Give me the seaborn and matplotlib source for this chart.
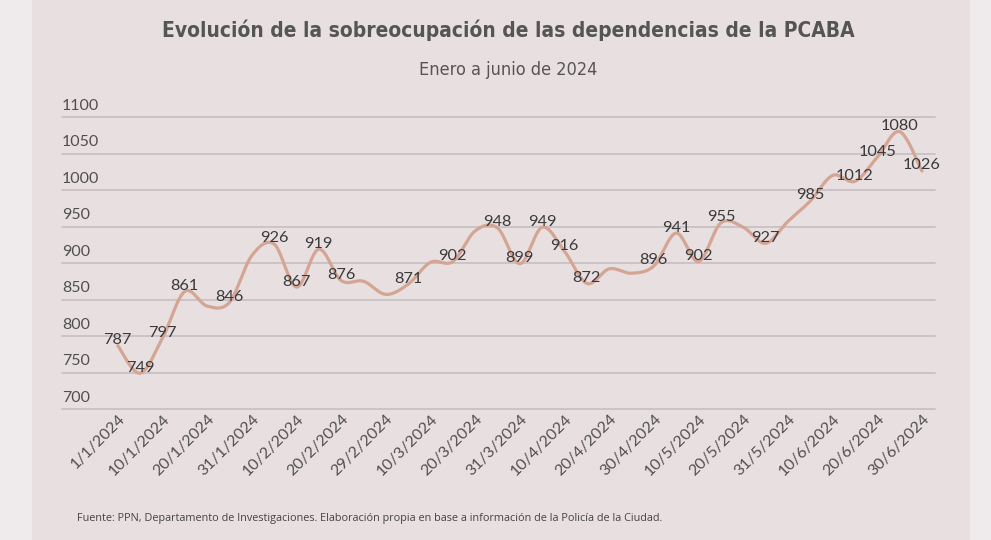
import numpy as np
import pandas as pd
import matplotlib
matplotlib.use("Agg")
import matplotlib.pyplot as plt
import seaborn as sns
from matplotlib.patches import Rectangle
from matplotlib.transforms import ScaledTranslation

# ---------------- data ----------------
dates = ["1/1/2024", "5/1/2024", "10/1/2024", "15/1/2024", "20/1/2024", "25/1/2024",
         "31/1/2024", "5/2/2024", "10/2/2024", "15/2/2024", "20/2/2024", "25/2/2024",
         "29/2/2024", "5/3/2024", "10/3/2024", "15/3/2024", "20/3/2024", "25/3/2024",
         "31/3/2024", "5/4/2024", "10/4/2024", "15/4/2024", "20/4/2024", "25/4/2024",
         "30/4/2024", "5/5/2024", "10/5/2024", "15/5/2024", "20/5/2024", "25/5/2024",
         "31/5/2024", "5/6/2024", "10/6/2024", "15/6/2024", "20/6/2024", "25/6/2024",
         "30/6/2024"]
values = [787, 749, 797, 861, 841, 846,
          910, 926, 867, 919, 876, 875,
          857, 871, 901, 902, 944, 948,
          899, 949, 916, 872, 892, 886,
          896, 941, 902, 955, 949, 927,
          957, 985, 1020, 1012, 1045, 1080,
          1026]
labeled = [True, True, True, True, False, True,
           False, True, True, True, True, False,
           False, True, False, True, False, True,
           True, True, True, True, False, False,
           True, True, True, True, False, True,
           False, True, False, True, True, True,
           True]
shown_ticks = dates[::2]
y_ticks = [700, 750, 800, 850, 900, 950, 1000, 1050, 1100]

title = "Evolución de la sobreocupación de las dependencias de la PCABA"
subtitle = "Enero a junio de 2024"
source = ("Fuente: PPN, Departamento de Investigaciones. Elaboración propia en base a "
          "información de la Policía de la Ciudad.")

df = pd.DataFrame({"fecha": dates, "valor": values, "etiqueta": labeled})
df["pos"] = np.arange(len(df))


def smooth_curve(x, y, steps=24):
    """Bezier smoothing through the data points (like a spreadsheet 'smoothed line')."""
    x = np.asarray(x, float)
    y = np.asarray(y, float)
    px = np.concatenate([[x[0]], x, [x[-1]]])
    py = np.concatenate([[y[0]], y, [y[-1]]])
    xs, ys = [], []
    t = np.linspace(0, 1, steps, endpoint=False)
    for i in range(len(x) - 1):
        p0 = np.array([px[i + 1], py[i + 1]])
        p3 = np.array([px[i + 2], py[i + 2]])
        c1 = p0 + (np.array([px[i + 2], py[i + 2]]) - np.array([px[i], py[i]])) / 6
        c2 = p3 - (np.array([px[i + 3], py[i + 3]]) - np.array([px[i + 1], py[i + 1]])) / 6
        pts = ((1 - t)[:, None] ** 3 * p0 + 3 * ((1 - t) ** 2 * t)[:, None] * c1
               + 3 * ((1 - t) * t ** 2)[:, None] * c2 + (t ** 3)[:, None] * p3)
        xs.extend(pts[:, 0]); ys.extend(pts[:, 1])
    xs.append(x[-1]); ys.append(y[-1])
    return np.array(xs), np.array(ys)


# ---------------- style ----------------
sns.set_theme(style="white")
plt.rcParams["font.family"] = ["Lato", "DejaVu Sans"]

outer_bg = "#efeaec"
panel_bg = "#e8dfe1"
grid_col = "#c9c1c4"
line_col = "#d4a593"
txt_col = "#3a3a3a"

W, H = 991, 540
fig = plt.figure(figsize=(W / 100, H / 100), dpi=100, facecolor=outer_bg)
fig.patches.append(Rectangle((32 / W, 0), (970 - 32) / W, 1, transform=fig.transFigure,
                             facecolor=panel_bg, edgecolor="none", zorder=-5))

left, right, top, bottom = 62, 935, 117, 409
ax = fig.add_axes([left / W, 1 - bottom / H, (right - left) / W, (bottom - top) / H])
ax.set_facecolor("none")
ax.set_zorder(2)

sx, sy = smooth_curve(df["pos"], df["valor"])
sns.lineplot(x=sx, y=sy, sort=False, estimator=None, color=line_col, lw=2.3, ax=ax,
             zorder=3)

x_first, x_last = 117.7, 922.0
step = (x_last - x_first) / (len(dates) - 1)
ax.set_xlim(-(x_first - left) / step, len(dates) - 1 + (right - x_last) / step)
ax.set_ylim(y_ticks[0], y_ticks[-1])

for _, r in df[df["etiqueta"]].iterrows():
    ax.annotate(str(r["valor"]), (r["pos"], r["valor"]), xytext=(0, 4),
                textcoords="offset points", ha="center", va="center",
                fontsize=11.8, color=txt_col, zorder=4, annotation_clip=False)

# y grid and labels
ax.set_yticks(y_ticks)
ax.set_yticklabels([])
ax.grid(axis="y", color=grid_col, lw=1.3)
for gl in ax.get_ygridlines():
    gl.set_clip_on(False)
for t in y_ticks:
    ax.annotate(str(t), (0, t), xycoords=ax.get_yaxis_transform(), xytext=(0, 3),
                textcoords="offset points", ha="left", va="bottom",
                fontsize=11.5, color="#505050")

# x ticks
ax.set_xticks(df["pos"][::2])
ax.set_xticklabels(shown_ticks, rotation=45, ha="right", rotation_mode="anchor",
                   fontsize=11.5, color="#505050")
offset = ScaledTranslation(5 / 100, -4 / 100, fig.dpi_scale_trans)
for lab in ax.get_xticklabels():
    lab.set_transform(lab.get_transform() + offset)
ax.tick_params(axis="both", length=0, pad=2)
ax.set_xlabel("")
ax.set_ylabel("")
for s in ax.spines.values():
    s.set_visible(False)

fig.text(508 / W, 1 - 30 / H, title, ha="center", va="center", fontsize=15,
         fontweight="bold", fontstretch="condensed", color="#555555",
         family=["DejaVu Sans"])
fig.text(508 / W, 1 - 70 / H, subtitle, ha="center", va="center", fontsize=13,
         fontstretch="condensed", color="#555555", family=["DejaVu Sans"])
fig.text(77 / W, 1 - 519 / H, source, ha="left", va="center", fontsize=7.8,
         color="#444444", family=["Open Sans", "DejaVu Sans"])

fig.savefig("out.png", dpi=100, facecolor=outer_bg)
